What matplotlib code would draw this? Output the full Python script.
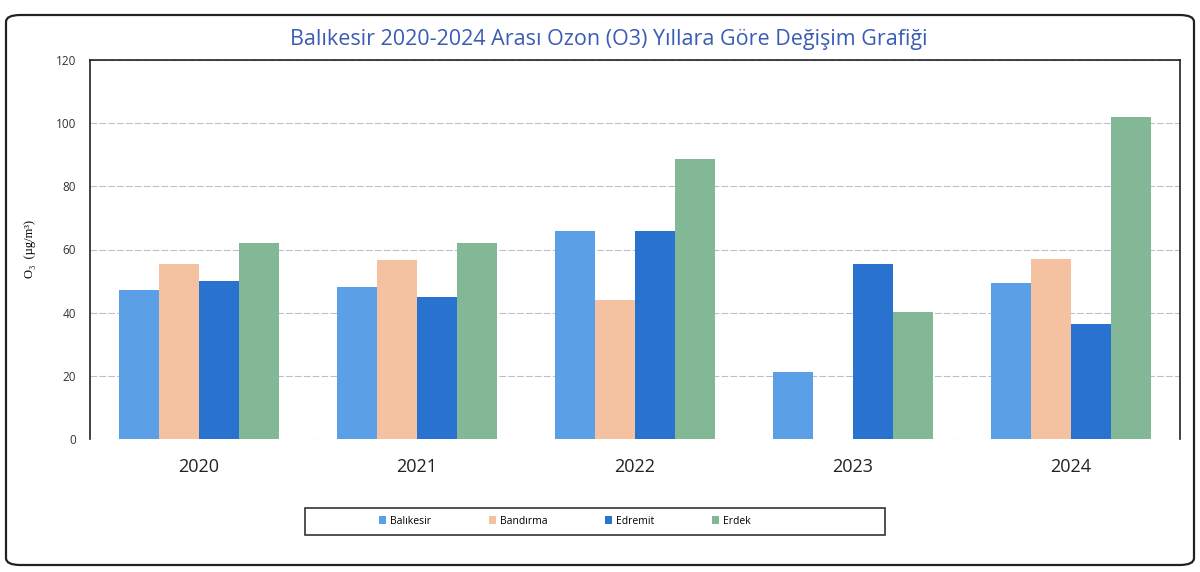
import numpy as np
import matplotlib.pyplot as plt
from matplotlib.patches import FancyBboxPatch, Rectangle

years = ["2020", "2021", "2022", "2023", "2024"]
stations = ["Balıkesir", "Bandırma", "Edremit", "Erdek"]

balikesir = [47.3, 48.2, 66.0, 21.2, 49.5]
bandirma = [55.3, 56.6, 44.0, np.nan, 57.1]
edremit = [49.9, 45.0, 66.0, 55.5, 36.5]
erdek = [62.1, 62.1, 88.5, 40.2, 102.0]

colors = ["#5b9fe6", "#f4c2a0", "#2a72cf", "#82b896"]

plt.rcParams['font.family'] = ['Open Sans', 'DejaVu Sans']

fig = plt.figure(figsize=(12, 5.72), dpi=100)

# outer rounded frame
frame = FancyBboxPatch((6 / 1200, 1 - 565 / 572), 1188 / 1200, 550 / 572,
                       boxstyle="round,pad=0,rounding_size=0.012",
                       transform=fig.transFigure, fill=False,
                       edgecolor="#222222", linewidth=1.6)
fig.patches.append(frame)

ax = fig.add_axes([90 / 1200, 1 - 439 / 572, 1090 / 1200, 379 / 572])

x = np.arange(len(years))
w = 0.183
series = [balikesir, bandirma, edremit, erdek]
for i, vals in enumerate(series):
    ax.bar(x + (i - 1.5) * w, vals, width=w, color=colors[i],
           label=stations[i], zorder=3)

ax.set_xlim(-0.5, 4.5)
ax.set_ylim(0, 120)
ax.set_yticks(range(0, 121, 20))
ax.yaxis.grid(True, color="#b8c0d6", linewidth=0.8, linestyle=(0, (6, 2)))
ax.set_axisbelow(True)
ax.tick_params(axis="y", length=0, labelsize=8.5, colors="#333333", pad=10)
ax.tick_params(axis="x", length=0, labelsize=13, colors="#222222", pad=14)
ax.set_xticks(x)
ax.set_xticklabels(years)

for s in ["left", "top", "right"]:
    ax.spines[s].set_color("#222222")
    ax.spines[s].set_linewidth(1.2)
ax.spines["bottom"].set_visible(False)

ax.set_ylabel("O₃  (µg/m³)", family=['Liberation Serif', 'DejaVu Serif'],
              fontsize=9, labelpad=14)

fig.text(0.507, 1 - 40 / 572,
         "Balıkesir 2020-2024 Arası Ozon (O3) Yıllara Göre Değişim Grafiği",
         ha="center", va="center", fontsize=15.5, color="#3b5cb5")

# legend box
box = Rectangle((305 / 1200, 1 - 535 / 572), 580 / 1200, 27 / 572,
                transform=fig.transFigure, fill=False,
                edgecolor="#333333", linewidth=1.2)
fig.patches.append(box)
handles, labels = ax.get_legend_handles_labels()
fig.legend(handles, labels, loc="center", ncol=4, frameon=False,
           bbox_to_anchor=(565 / 1200, 1 - 521 / 572),
           fontsize=7.5, handlelength=0.7, handleheight=0.7,
           handletextpad=0.4, columnspacing=5.5)

fig.savefig("out.png", dpi=100)
